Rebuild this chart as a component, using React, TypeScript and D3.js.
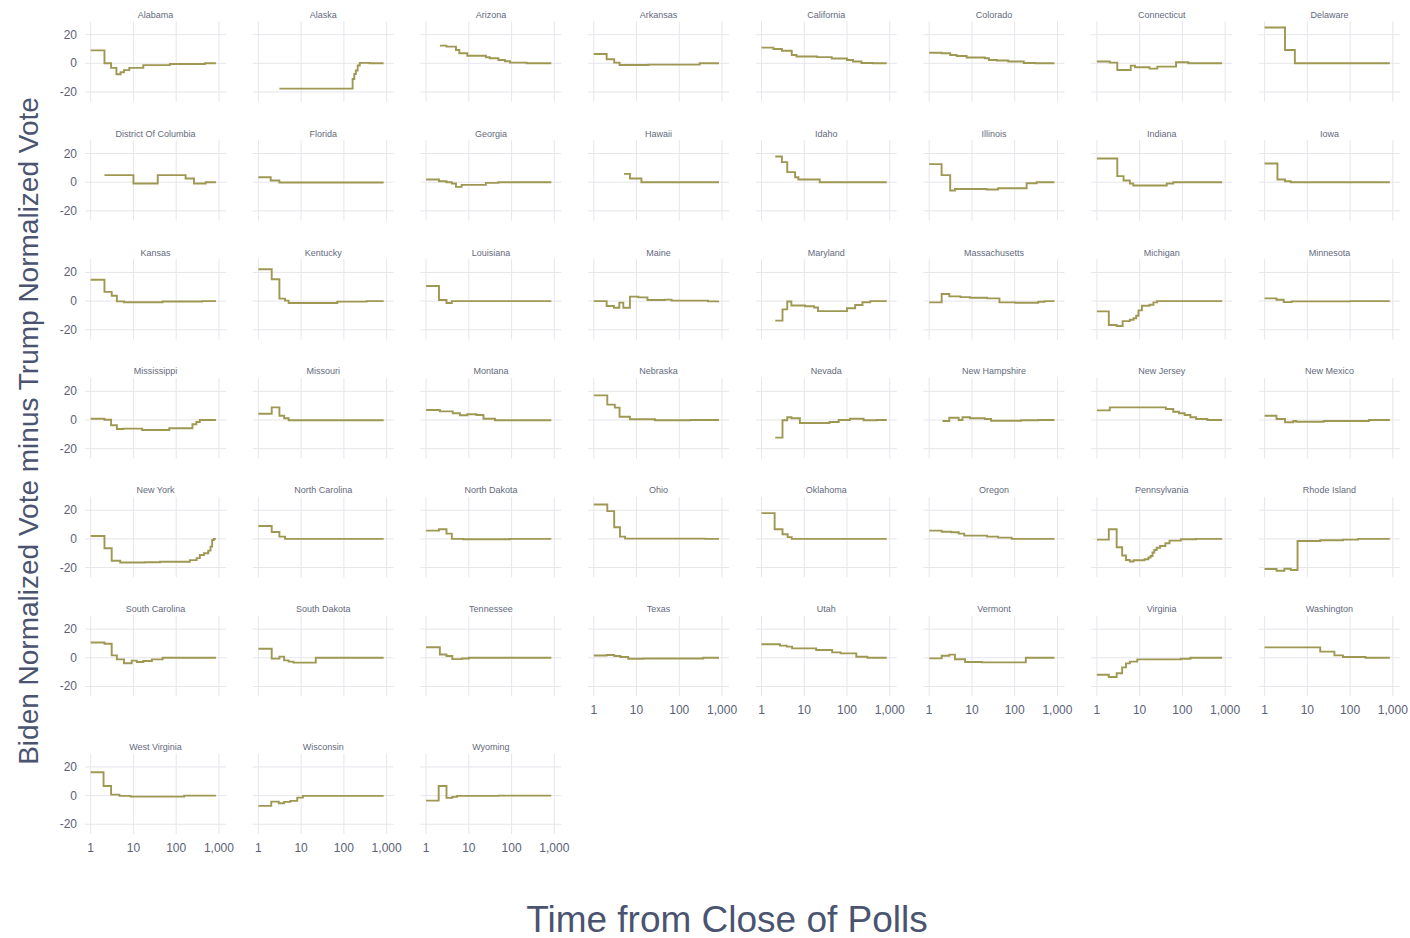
import React from "react";
import * as d3 from "d3";

// ---------- DATA ----------
const STATE_NAMES = [
  "Alabama", "Alaska", "Arizona", "Arkansas", "California", "Colorado", "Connecticut", "Delaware",
  "District Of Columbia", "Florida", "Georgia", "Hawaii", "Idaho", "Illinois", "Indiana", "Iowa",
  "Kansas", "Kentucky", "Louisiana", "Maine", "Maryland", "Massachusetts", "Michigan", "Minnesota",
  "Mississippi", "Missouri", "Montana", "Nebraska", "Nevada", "New Hampshire", "New Jersey", "New Mexico",
  "New York", "North Carolina", "North Dakota", "Ohio", "Oklahoma", "Oregon", "Pennsylvania", "Rhode Island",
  "South Carolina", "South Dakota", "Tennessee", "Texas", "Utah", "Vermont", "Virginia", "Washington",
  "West Virginia", "Wisconsin", "Wyoming",
];

// [hours from close of polls, Biden minus Trump normalized vote] – step points
const alabama = [[1, 9], [2.1, 0], [3, -3.2], [4, -7.6], [5, -6.3], [6, -4.8], [8, -3.2], [17, -1.3], [71, -0.5], [470, 0]];
const alaska = [[3.1, -17.7], [160, -11], [175, -7.5], [190, -5], [210, -1.5], [235, 0.3], [400, 0]];
const arizona = [[2.1, 12.3], [3, 11.6], [5, 9.3], [6, 7], [9.2, 5.3], [25, 4.2], [31, 3.5], [49, 2.3], [70, 1.4], [92, 0.5], [225, 0]];
const arkansas = [[1, 6.5], [2, 2.8], [3, 0.5], [4, -1.2], [19, -0.9], [300, 0]];
const california = [[1, 10.9], [1.9, 10], [3, 8.8], [5.1, 5.8], [6.6, 4.7], [20, 4.3], [44, 3.3], [100, 2.3], [138, 1.2], [218, 0.2], [400, 0]];
const colorado = [[1, 7.4], [1.96, 7], [3.1, 5.8], [4.4, 5.1], [7.5, 4], [20, 3.5], [25, 2.3], [38, 1.9], [71, 1.2], [163, 0.2], [300, 0]];
const connecticut = [[1, 1.2], [2, 0.5], [3, -4.7], [6.2, -1.6], [7.8, -2.8], [17, -3.7], [26, -2.3], [71, 0.7], [137, 0]];
const delaware = [[1, 25], [3, 9.3], [5.1, 0]];
const districtOfColumbia = [[2.1, 4.9], [10, -0.9], [37, 4.9], [166, 2.6], [260, -0.9], [490, 0]];
const florida = [[1, 3.5], [1.94, 1.2], [3.1, -0.2]];
const georgia = [[1, 1.9], [2, 0.7], [3, 0], [4, -0.9], [5, -3.3], [6.8, -1.9], [25, -0.5], [49, 0]];
const hawaii = [[5.1, 5.8], [7, 2.6], [13, 0]];
const idaho = [[2.1, 17.9], [3, 14], [4, 7], [6.1, 3.5], [7.3, 1.9], [23, 0]];
const illinois = [[1, 12.6], [1.95, 4.9], [3.1, -5.8], [4, -4.7], [22, -5.1], [41, -4.2], [190, -0.7], [325, 0]];
const indiana = [[1, 16.5], [3, 4.2], [4.2, 1.2], [5.9, -0.9], [7.1, -2.3], [43, -0.9], [61, 0]];
const iowa = [[1, 13], [2, 1.9], [3, 0.7], [4.1, 0]];
const kansas = [[1, 14.9], [2.1, 6.4], [3.1, 3.7], [4.1, -0.2], [6, -0.8], [48, -0.3], [400, 0]];
const kentucky = [[1, 22.2], [2.05, 15.2], [3.1, 1.7], [4.2, 0.3], [5.1, -1.3], [70, -0.4], [340, 0]];
const louisiana = [[1, 10.5], [2, 0.8], [3, -1.3], [4, 0]];
const maine = [[1, 0], [2, -3.4], [2.96, -4.6], [3.95, -1.1], [4.9, -4.6], [7, 3.1], [11, 2.6], [18, 0.8], [46, 1], [66, 0.3], [470, -0.2]];
const maryland = [[2.1, -13.6], [3.1, -5.8], [4, -0.3], [5, -3.1], [10.4, -3.6], [17, -4.5], [21, -7], [100, -5], [155, -2.7], [230, -0.8], [350, 0]];
const massachusetts = [[1, -0.9], [1.96, 4.9], [2.95, 3.3], [5.4, 2.8], [9, 2.3], [22.6, 1.9], [44, -0.9], [104, -1.2], [355, -0.5], [500, 0]];
const michigan = [[1, -7.2], [1.9, -16.7], [2.9, -17.4], [4, -14], [5.9, -13], [7.2, -12], [8.3, -10.2], [9.4, -6.5], [11.3, -3.3], [17, -2.6], [21, -0.9], [25.5, 0]];
const minnesota = [[1, 1.9], [1.9, 0.9], [2.8, -0.7], [4.3, -0.2], [100, 0]];
const mississippi = [[1, 0.9], [2.1, 0.2], [3, -3.7], [4.1, -6.3], [5.8, -6], [16, -7], [69, -5.8], [240, -3], [296, -1.4], [357, 0]];
const missouri = [[1, 4.4], [2.05, 8.8], [3.1, 3], [4, 1.2], [5.1, -0.2]];
const montana = [[1, 7], [2.1, 6], [4.2, 4.7], [6.2, 3.3], [9.2, 4], [15, 3.5], [22, 0.9], [41, -0.2]];
const nebraska = [[1, 17.2], [2.07, 10.7], [3.1, 8.6], [4, 2.3], [7, 0.5], [27, -0.2], [177, 0]];
const nevada = [[2.1, -12.3], [3.1, -0.2], [4, 1.9], [5, 1.2], [7.9, -2.1], [39, -1.4], [64, 0], [117, 0.9], [245, -0.2], [500, 0]];
const newHampshire = [[2.04, -0.7], [2.95, 1.6], [4.9, 0], [6, 1.9], [9, 1.2], [20, 0.7], [28, -0.5], [141, -0.2], [355, 0]];
const newJersey = [[1, 6.7], [2, 8.8], [41, 7.7], [61, 5.8], [83, 4.7], [113, 3.5], [154, 1.9], [210, 0.7], [383, 0]];
const newMexico = [[1, 3], [1.9, 0.7], [3, -1.6], [4.7, -0.7], [5.5, -1.2], [24, -0.7], [276, 0]];
const newYork = [[1, 2], [2.1, -6.5], [3.1, -15.3], [4.9, -16.5], [18.6, -16.3], [42, -16], [209, -14.8], [300, -13.4], [357, -11.2], [445, -10], [562, -8.2], [635, -5.4], [693, -0.8], [760, 0]];
const northCarolina = [[1, 9], [2.05, 4.8], [3.1, 1.6], [4.2, 0]];
const northDakota = [[1, 5.8], [2, 6.7], [3, 3.7], [4, 0], [7.4, -0.2], [91, 0]];
const ohio = [[1, 24], [2.07, 19.4], [3, 8.1], [4.1, 1.6], [5.4, 0.2], [400, 0]];
const oklahoma = [[1, 18], [2.03, 6.7], [3.1, 3.2], [4.1, 1.2], [5.1, 0]];
const oregon = [[1, 5.8], [1.96, 5], [3.3, 4.6], [4.9, 3.7], [6.6, 2.3], [22.6, 1.6], [41, 0.9], [85, 0]];
const pennsylvania = [[1, -0.5], [1.9, 6.7], [2.9, -5.8], [3.9, -11.6], [4.8, -14.7], [5.9, -15.8], [7.2, -14.9], [13, -14.2], [16, -13], [18, -11.9], [20, -9.5], [22, -7.7], [25, -6.2], [30, -5], [40, -3], [50, -1.2], [92, -0.3], [209, 0]];
const rhodeIsland = [[1, -21], [1.9, -22.2], [2.9, -20.8], [4.1, -21.7], [5.9, -1.5], [20, -1], [68, -0.5], [154, 0]];
const southCarolina = [[1, 10.7], [2.1, 9.8], [3.1, 1.7], [4.1, -1.1], [6, -3.8], [9.1, -2], [12, -2.9], [17, -2.2], [27, -1.1], [48, 0]];
const southDakota = [[1, 6.3], [2.05, -0.6], [3.1, 0.8], [4, -1.8], [5.1, -2.7], [6.6, -3.4], [22, 0]];
const tennessee = [[1, 7.4], [2.1, 2.3], [3, 1.2], [4.1, -0.9], [6.8, -0.5], [10, 0]];
const texas = [[1, 1.6], [2, 1.9], [3, 1.2], [4.2, 0.5], [6.4, -0.7], [14.5, -0.5], [363, 0]];
const utah = [[1, 9.4], [2.7, 8.5], [3.9, 7.8], [5.2, 6.6], [19, 5.4], [45, 3.8], [71, 3.1], [165, 0.7], [300, 0]];
const vermont = [[1, -0.4], [1.96, 1.4], [2.95, 2.2], [4, -1], [6.9, -2.9], [17, -3.2], [182, 0]];
const virginia = [[1, -11.8], [1.9, -13.4], [2.9, -10.8], [3.9, -6.7], [4.8, -3.9], [5.9, -2.7], [8.8, -1.1], [92, -0.7], [154, 0]];
const washington = [[1, 7.3], [20, 4.3], [43, 1.7], [68, 0.6], [230, 0]];
const westVirginia = [[1, 16.3], [2, 6.7], [3, 0.7], [4.7, -0.2], [8.6, -0.7], [154, 0]];
const wisconsin = [[1, -7.2], [2, -4.2], [3, -5.3], [4, -4.4], [5.6, -3.7], [8.1, -1.4], [11, -0.2]];
const wyoming = [[1, -3.5], [1.97, 6.7], [3, -1.6], [4.1, -0.9], [5.3, -0.2], [49, 0]];

const SERIES = [
  alabama, alaska, arizona, arkansas, california, colorado, connecticut, delaware,
  districtOfColumbia, florida, georgia, hawaii, idaho, illinois, indiana, iowa,
  kansas, kentucky, louisiana, maine, maryland, massachusetts, michigan, minnesota,
  mississippi, missouri, montana, nebraska, nevada, newHampshire, newJersey, newMexico,
  newYork, northCarolina, northDakota, ohio, oklahoma, oregon, pennsylvania, rhodeIsland,
  southCarolina, southDakota, tennessee, texas, utah, vermont, virginia, washington,
  westVirginia, wisconsin, wyoming,
];

const END_HOURS = 850;
const X_TICKS = [1, 10, 100, 1000];
const Y_TICKS = [-20, 0, 20];
const X_DOMAIN = [0.736, 1462];
const Y_DOMAIN = [-26.8, 29.3];

const X_TITLE = "Time from Close of Polls";
const Y_TITLE = "Biden Normalized Vote minus Trump Normalized Vote";

// ---------- LAYOUT ----------
const W = 1410;
const H = 938;
const NCOL = 8;
const PANEL_W = 141;
const PANEL_H = 80.4;
const LEFT0 = 85;
const COL_STEP = 167.7;
const TOP0 = 21.3;
const ROW_STEP = 118.9;
const LAST_ROW_TOP = 753.6;

const LINE_COLOR = "#9e9853";
const GRID_COLOR = "#e6e6ec";
const TICK_COLOR = "#5a6176";
const TITLE_COLOR = "#4a5470";
const FONT = "'Liberation Sans', Arial, sans-serif";

export default function App() {
  const x = d3.scaleLog().domain(X_DOMAIN).range([0, PANEL_W]);
  const y = d3.scaleLinear().domain(Y_DOMAIN).range([PANEL_H, 0]);
  const fmt = d3.format(",");
  const line = d3
    .line<number[]>()
    .x((d) => x(d[0]))
    .y((d) => y(d[1]))
    .curve(d3.curveStepAfter);

  const nRows = Math.ceil(SERIES.length / NCOL);

  return (
    <svg
      width={W}
      height={H}
      style={{ position: "absolute", left: 0, top: 0, background: "#fff" }}
      fontFamily={FONT}
    >
      {SERIES.map((pts, i) => {
        const col = i % NCOL;
        const row = Math.floor(i / NCOL);
        const left = LEFT0 + col * COL_STEP;
        const top = row === nRows - 1 ? LAST_ROW_TOP : TOP0 + row * ROW_STEP;
        const showX = i + NCOL >= SERIES.length;
        const showY = col === 0;
        const full = [...pts, [END_HOURS, pts[pts.length - 1][1]]];
        return (
          <g key={STATE_NAMES[i]} transform={`translate(${left},${top})`}>
            {Y_TICKS.map((t) => (
              <line key={"gy" + t} x1={0} x2={PANEL_W} y1={y(t)} y2={y(t)} stroke={GRID_COLOR} strokeWidth={1} />
            ))}
            {X_TICKS.map((t) => (
              <line key={"gx" + t} x1={x(t)} x2={x(t)} y1={0} y2={PANEL_H} stroke={GRID_COLOR} strokeWidth={1} />
            ))}
            <path d={line(full) || ""} fill="none" stroke={LINE_COLOR} strokeWidth={1.9} />
            <text
              x={PANEL_W / 2}
              y={-6.6}
              textAnchor="middle"
              dominantBaseline="central"
              fontSize={9}
              fill="#646a7c"
            >
              {STATE_NAMES[i]}
            </text>
            {showY &&
              Y_TICKS.map((t) => (
                <text
                  key={"ty" + t}
                  x={-8}
                  y={y(t)}
                  textAnchor="end"
                  dominantBaseline="central"
                  fontSize={12}
                  fill={TICK_COLOR}
                >
                  {t}
                </text>
              ))}
            {showX &&
              X_TICKS.map((t) => (
                <text
                  key={"tx" + t}
                  x={x(t)}
                  y={PANEL_H + 14}
                  textAnchor="middle"
                  dominantBaseline="central"
                  fontSize={12}
                  fill={TICK_COLOR}
                >
                  {fmt(t)}
                </text>
              ))}
          </g>
        );
      })}
      <text x={727} y={919} textAnchor="middle" dominantBaseline="central" fontSize={37} fill={TITLE_COLOR}>
        {X_TITLE}
      </text>
      <text
        transform={`translate(28,431) rotate(-90)`}
        textAnchor="middle"
        dominantBaseline="central"
        fontSize={28}
        fill={TITLE_COLOR}
      >
        {Y_TITLE}
      </text>
    </svg>
  );
}
